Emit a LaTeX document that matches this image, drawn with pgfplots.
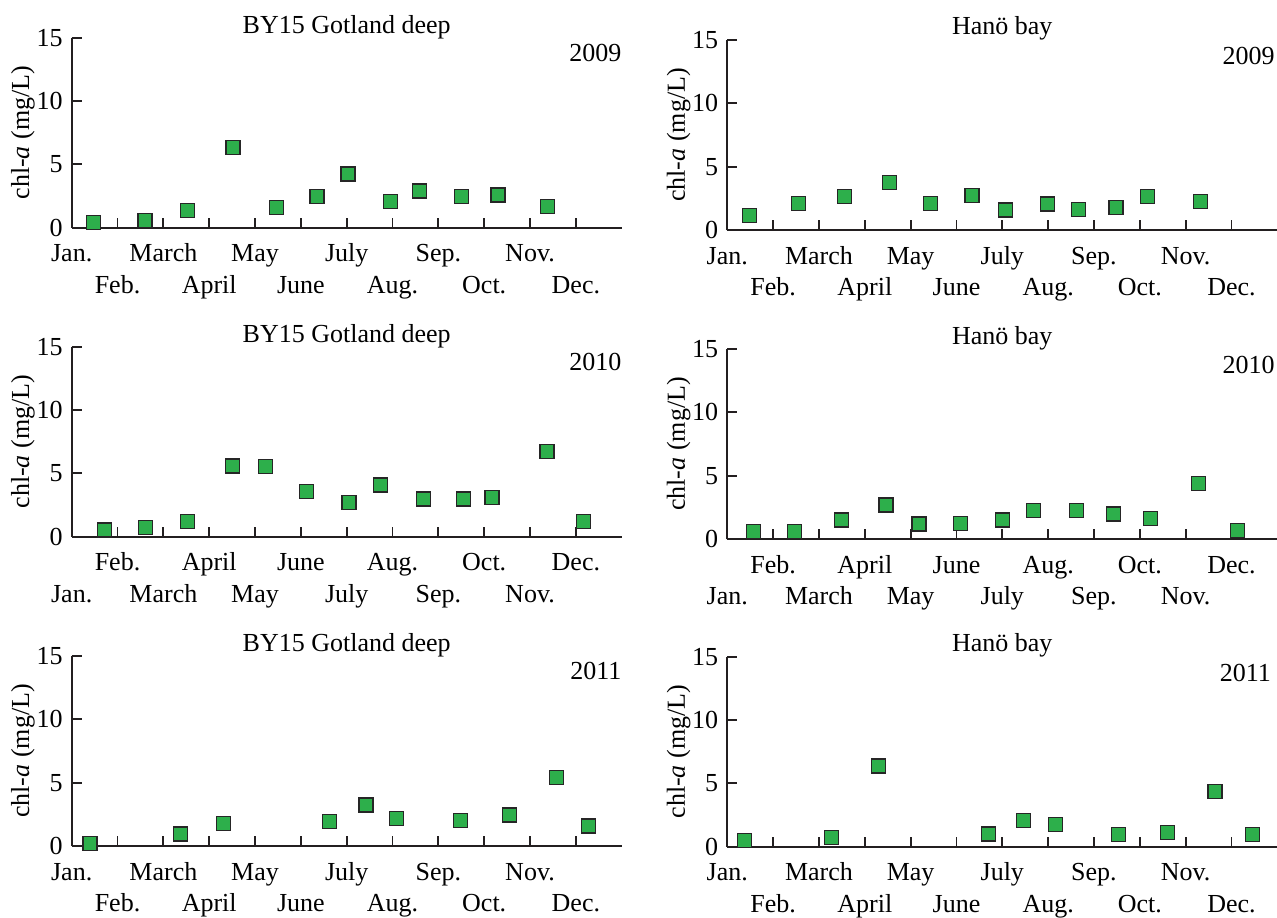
\documentclass[border=0pt]{standalone}
\usepackage{fontspec}
\setmainfont{Liberation Serif}
\usepackage{pgfplots}
\pgfplotsset{compat=1.18}
\definecolor{mgreen}{RGB}{45,175,75}
\definecolor{ink}{RGB}{35,31,32}
\pgfplotsset{
  panel/.style={
    scale only axis, width=275pt, height=95pt,
    xmin=0, xmax=12, ymin=0, ymax=15,
    axis x line=bottom, axis y line=left,
    axis line style={-, line width=0.9pt, ink},
    tick style={line width=0.9pt, ink},
    major tick length=5pt, tick align=inside,
    ytick={0,5,10,15},
    clip=false,
    font=\fontsize{13}{15.6}\selectfont,
    /pgf/number format/assume math mode=true,
    ylabel={chl-\textit{a} (mg/L)},
    ylabel style={at={(axis description cs:-0.0885,0.5)}, anchor=center},
    xticklabel style={anchor=base, yshift=-17pt},
    yticklabel style={xshift=-1pt},
    every node/.append style={text=ink},
  },
  rowA/.style={
    xtick={0,2,4,6,8,10}, xticklabels={Jan.,March,May,July,Sep.,Nov.},
    extra x ticks={1,3,5,7,9,11}, extra x tick labels={Feb.,April,June,Aug.,Oct.,Dec.},
    extra x tick style={xticklabel style={yshift=-15.8pt}},
  },
  rowB/.style={
    xtick={1,3,5,7,9,11}, xticklabels={Feb.,April,June,Aug.,Oct.,Dec.},
    extra x ticks={0,2,4,6,8,10}, extra x tick labels={Jan.,March,May,July,Sep.,Nov.},
    extra x tick style={xticklabel style={yshift=-15.8pt}},
  },
  pts/.style={only marks, mark=square*, mark size=3.5pt,
    mark options={fill=mgreen, draw=black!85, line width=0.6pt}},
}
\begin{document}
\begin{tikzpicture}
% Row 1
\begin{axis}[panel, rowA, at={(35.85pt,344.65pt)}, anchor=south west]
\addplot[pts] coordinates {(0.47,0.39)(1.60,0.60)(2.52,1.34)(3.52,6.34)(4.46,1.60)(5.35,2.45)(6.03,4.24)(6.95,2.05)(7.59,2.90)(8.51,2.45)(9.30,2.58)(10.38,1.66)};
\node[anchor=base, yshift=2.3pt] at (axis cs:6,15) {BY15 Gotland deep};
\node[anchor=east, inner sep=0pt] at (axis cs:12,13.8) {2009};
\end{axis}
\begin{axis}[panel, rowA, at={(363.65pt,343.5pt)}, anchor=south west]
\addplot[pts] coordinates {(0.49,1.13)(1.56,2.10)(2.56,2.63)(3.54,3.74)(4.44,2.10)(5.34,2.71)(6.07,1.58)(6.98,2.05)(7.66,1.63)(8.48,1.76)(9.17,2.63)(10.33,2.24)};
\node[anchor=base, yshift=2.5pt] at (axis cs:6,15) {Han\"o bay};
\node[anchor=east, inner sep=0pt] at (axis cs:11.95,13.75) {2009};
\end{axis}
% Row 2
\begin{axis}[panel, rowB, at={(35.85pt,190.15pt)}, anchor=south west]
\addplot[pts] coordinates {(0.72,0.53)(1.61,0.74)(2.53,1.18)(3.51,5.58)(4.23,5.53)(5.12,3.60)(6.05,2.68)(6.73,4.08)(7.67,2.97)(8.54,2.97)(9.17,3.08)(10.37,6.71)(11.16,1.18)};
\node[anchor=base, yshift=2.3pt] at (axis cs:6,15) {BY15 Gotland deep};
\node[anchor=east, inner sep=0pt] at (axis cs:12,13.8) {2010};
\end{axis}
\begin{axis}[panel, rowB, at={(363.65pt,189pt)}, anchor=south west]
\addplot[pts] coordinates {(0.57,0.58)(1.46,0.58)(2.49,1.50)(3.46,2.68)(4.18,1.18)(5.08,1.24)(6.01,1.50)(6.68,2.24)(7.61,2.24)(8.43,1.97)(9.23,1.63)(10.28,4.39)(11.13,0.66)};
\node[anchor=base, yshift=2.5pt] at (axis cs:6,15) {Han\"o bay};
\node[anchor=east, inner sep=0pt] at (axis cs:11.95,13.75) {2010};
\end{axis}
% Row 3
\begin{axis}[panel, rowA, at={(35.85pt,35.5pt)}, anchor=south west]
\addplot[pts] coordinates {(0.40,0.21)(2.37,0.95)(3.31,1.79)(5.63,1.92)(6.42,3.24)(7.09,2.18)(8.48,2.00)(9.55,2.45)(10.58,5.42)(11.27,1.58)};
\node[anchor=base, yshift=2.3pt] at (axis cs:6,15) {BY15 Gotland deep};
\node[anchor=east, inner sep=0pt] at (axis cs:12,13.8) {2011};
\end{axis}
\begin{axis}[panel, rowA, at={(363.65pt,35.15pt)}, anchor=south west]
\addplot[pts] coordinates {(0.37,0.52)(2.27,0.71)(3.29,6.37)(5.70,1.00)(6.46,2.10)(7.16,1.78)(8.54,0.95)(9.60,1.10)(10.64,4.35)(11.46,0.95)};
\node[anchor=base, yshift=2.5pt] at (axis cs:6,15) {Han\"o bay};
\node[anchor=east, inner sep=0pt] at (axis cs:11.87,13.75) {2011};
\end{axis}
\pgfresetboundingbox
\useasboundingbox (0,0) rectangle (638.5pt,458.5pt);
\end{tikzpicture}
\end{document}
